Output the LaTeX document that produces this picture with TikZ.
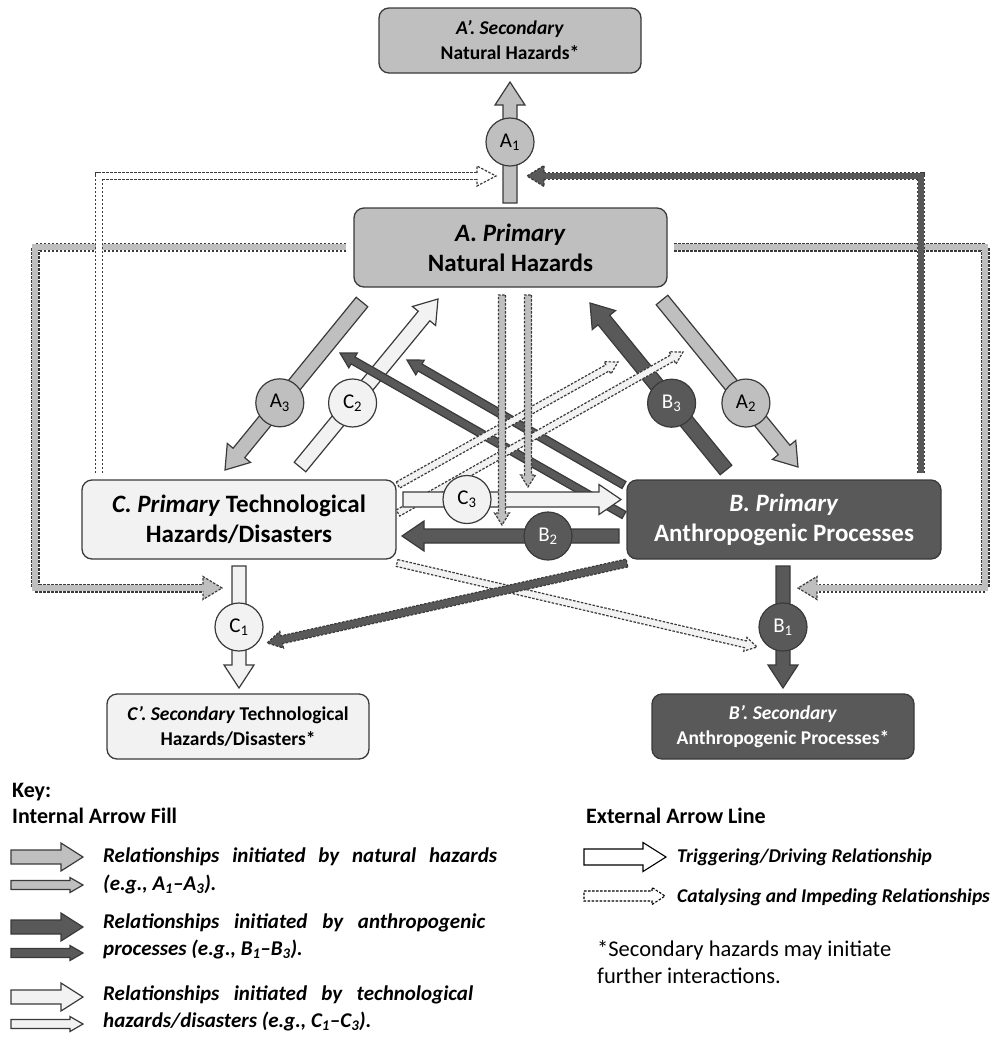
\documentclass[tikz,border=0pt]{standalone}
\usepackage{fontspec}
\setmainfont{Carlito}
\usetikzlibrary{calc}
\definecolor{natc}{HTML}{BFBFBF}
\definecolor{antc}{HTML}{595959}
\definecolor{tecc}{HTML}{F2F2F2}
\definecolor{linec}{HTML}{3A3A3A}
\newcommand\primfont{\fontsize{25}{30}\selectfont\bfseries}
\newcommand\secfont{\fontsize{19.5}{25}\selectfont\bfseries}
% block arrow: style, start, end, half shaft, half head, head length
\newcommand\barr[6]{%
  \coordinate (hb) at ($#3!#6!#2$);
  \draw[#1] ($#2!#4!90:#3$) -- ($(hb)!#4!90:#3$) -- ($(hb)!#5!90:#3$) -- #3 -- ($(hb)!#5!-90:#3$) -- ($(hb)!#4!-90:#3$) -- ($#2!#4!-90:#3$) -- cycle;}
% open arrow head only: style, from, tip, half shaft, half head, head length
\newcommand\bhead[6]{%
  \coordinate (hb) at ($#3!#6!#2$);
  \draw[#1] ($(hb)!#4!90:#3$) -- ($(hb)!#5!90:#3$) -- #3 -- ($(hb)!#5!-90:#3$) -- ($(hb)!#4!-90:#3$);}
\begin{document}
\begin{tikzpicture}[x=1pt,y=-1pt,
  box/.style={draw=linec, line width=1.3pt, rounded corners=10pt, align=center, inner sep=0pt},
  natarr/.style={draw=linec, line width=1.2pt, fill=natc},
  antarr/.style={draw=linec, line width=1.2pt, fill=antc},
  tecarr/.style={draw=linec, line width=1.2pt, fill=tecc},
  whitearr/.style={draw=black, line width=1.1pt, fill=white},
  dsh/.style={dash pattern=on 2.5pt off 1.5pt},
  bandout/.style={line width=#1, draw=linec, dash pattern=on 2.5pt off 1.5pt},
  bandin/.style={line width=#1},
  lbl/.style={circle, draw=linec, line width=1.2pt, minimum size=48pt, inner sep=0pt, font=\fontsize{21}{21}\selectfont},
  keyhd/.style={anchor=base west, inner sep=0pt, font=\fontsize{22}{26}\selectfont\bfseries},
  keytx/.style={anchor=base west, inner sep=0pt, font=\fontsize{21}{26}\selectfont\bfseries\itshape},
  keytx2/.style={anchor=base west, inner sep=0pt, font=\fontsize{19.5}{22}\selectfont\bfseries\itshape},
]
\useasboundingbox (0,0) rectangle (990,1037);

% ---------- boxes ----------
\node[box, fill=natc, minimum width=262pt, minimum height=65pt, font=\secfont] (Ap) at (510,40.5) {\textit{A’. Secondary}\\Natural Hazards*};
\node[box, fill=natc, minimum width=313pt, minimum height=79pt, font=\primfont] (A) at (510.5,247.5) {\textit{A. Primary}\\Natural Hazards};
\node[box, fill=tecc, minimum width=314pt, minimum height=79pt, font=\primfont] (C) at (239,519.5) {\textit{C. Primary} Technological\\Hazards/Disasters};
\node[box, fill=antc, text=white, minimum width=314pt, minimum height=79pt, font=\primfont] (B) at (784,519.5) {\textit{B. Primary}\\Anthropogenic Processes};
\node[box, fill=tecc, minimum width=262pt, minimum height=65pt, font=\secfont] (Cp) at (238,726.5) {\textit{C’. Secondary} Technological\\Hazards/Disasters*};
\node[box, fill=antc, text=white, minimum width=262pt, minimum height=65pt, font=\secfont] (Bp) at (783,726.5) {\textit{B’. Secondary}\\Anthropogenic Processes*};

% ---------- external elbow arrows ----------
\coordinate (ac1s) at (346,247); \coordinate (ac1k) at (35,588); \coordinate (ac1b) at (203,588); \coordinate (ac1e) at (222,588);
\draw[bandout=9pt] (ac1s) -| (ac1k) -- (ac1b);
\draw[bandin=6.6pt, draw=natc] (ac1s) -| (ac1k) -- (ac1b);
\bhead{natarr,dsh}{(ac1k)}{(ac1e)}{3.3pt}{11.5pt}{19pt}

\coordinate (ab1s) at (674,247); \coordinate (ab1k) at (985,588); \coordinate (ab1b) at (817,588); \coordinate (ab1e) at (798,588);
\draw[bandout=9pt] (ab1s) -| (ab1k) -- (ab1b);
\draw[bandin=6.6pt, draw=natc] (ab1s) -| (ab1k) -- (ab1b);
\bhead{natarr,dsh}{(ab1k)}{(ab1e)}{3.3pt}{11.5pt}{19pt}

\coordinate (ca1s) at (99,473); \coordinate (ca1b) at (477,176); \coordinate (ca1e) at (496,176);
\draw[bandout=8pt] (ca1s) |- (ca1b);
\draw[bandin=5.6pt, draw=white] (ca1s) |- (ca1b);
\bhead{tecarr,dsh,fill=white}{(ca1b)}{(ca1e)}{2.8pt}{10pt}{19pt}

\coordinate (ba1s) at (921,473); \coordinate (ba1b) at (544,176); \coordinate (ba1e) at (527,176);
\draw[bandout=8pt] (ba1s) |- (ba1b);
\draw[bandin=5.6pt, draw=antc] (ba1s) |- (ba1b);
\bhead{antarr,dsh}{(ba1b)}{(ba1e)}{2.8pt}{10.5pt}{17pt}

% ---------- main block arrows ----------
\coordinate (a1s) at (510,203); \coordinate (a1e) at (510,82);
\barr{natarr}{(a1s)}{(a1e)}{7pt}{15pt}{23pt}
\coordinate (c1s) at (239,566); \coordinate (c1e) at (239,688);
\barr{tecarr}{(c1s)}{(c1e)}{7pt}{15pt}{23pt}
\coordinate (b1s) at (783,566); \coordinate (b1e) at (783,688);
\barr{antarr}{(b1s)}{(b1e)}{7pt}{15pt}{23pt}
\coordinate (a3s) at (362,302); \coordinate (a3e) at (225,470);
\barr{natarr}{(a3s)}{(a3e)}{7.5pt}{15pt}{22pt}
\coordinate (c2s) at (300,467); \coordinate (c2e) at (438,299);
\barr{tecarr}{(c2s)}{(c2e)}{7.5pt}{15pt}{22pt}
\coordinate (b3s) at (726,470); \coordinate (b3e) at (590,303);
\barr{antarr}{(b3s)}{(b3e)}{7.5pt}{15pt}{22pt}
\coordinate (a2s) at (662,300); \coordinate (a2e) at (798,467);
\barr{natarr}{(a2s)}{(a2e)}{7.5pt}{15pt}{22pt}

% ---------- thin internal arrows ----------
\coordinate (bas) at (624,515); \coordinate (bae) at (340,353);
\barr{antarr}{(bas)}{(bae)}{4pt}{8.5pt}{15pt}
\coordinate (bcs) at (624,485); \coordinate (bce) at (407,360);
\barr{antarr}{(bcs)}{(bce)}{4pt}{8.5pt}{15pt}
\coordinate (cbs) at (398,485); \coordinate (cbe) at (618,362);
\barr{tecarr,dsh}{(cbs)}{(cbe)}{3.5pt}{7pt}{12pt}
\coordinate (cas) at (398,513); \coordinate (cae) at (683,352);
\barr{tecarr,dsh}{(cas)}{(cae)}{3.5pt}{7pt}{12pt}

\coordinate (c3s) at (403,499.5); \coordinate (c3e) at (621,499.5);
\barr{tecarr}{(c3s)}{(c3e)}{7.5pt}{15pt}{22pt}
\coordinate (b2s) at (619,536); \coordinate (b2e) at (402,536);
\barr{antarr}{(b2s)}{(b2e)}{7pt}{15pt}{22pt}

\coordinate (avbs) at (502,295); \coordinate (avbe) at (502,525);
\barr{natarr,dsh}{(avbs)}{(avbe)}{3.5pt}{7.5pt}{12pt}
\coordinate (avcs) at (528,295); \coordinate (avce) at (528,487);
\barr{natarr,dsh}{(avcs)}{(avce)}{3.5pt}{7.5pt}{12pt}

\coordinate (cb1s) at (397,563); \coordinate (cb1e) at (757,647);
\barr{tecarr,dsh}{(cb1s)}{(cb1e)}{3.5pt}{7pt}{12pt}
\coordinate (bc1s) at (627,563); \coordinate (bc1e) at (267,643);
\barr{antarr,dsh}{(bc1s)}{(bc1e)}{4pt}{8.5pt}{15pt}

% ---------- circles ----------
\node[lbl, fill=natc] (A1) at (510,142) {A\textsubscript{1}};
\node[lbl, fill=natc] (A2) at ($(a2s)!0.617!(a2e)$) {A\textsubscript{2}};
\node[lbl, fill=natc] (A3) at ($(a3s)!0.6!(a3e)$) {A\textsubscript{3}};
\node[lbl, fill=antc, text=white] (B1) at (783,627) {B\textsubscript{1}};
\node[lbl, fill=antc, text=white] (B2) at (548,536) {B\textsubscript{2}};
\node[lbl, fill=antc, text=white] (B3) at ($(b3s)!0.4!(b3e)$) {B\textsubscript{3}};
\node[lbl, fill=tecc] (C1) at (239,627) {C\textsubscript{1}};
\node[lbl, fill=tecc] (C2) at ($(c2s)!0.381!(c2e)$) {C\textsubscript{2}};
\node[lbl, fill=tecc] (C3) at (467,499.5) {C\textsubscript{3}};

% ---------- key ----------
\node[keyhd] (keyt) at (12,797) {Key:};
\node[keyhd] (intt) at (12,823) {Internal Arrow Fill};
\node[keyhd] (extt) at (586,823) {External Arrow Line};

\coordinate (k1s) at (11,857); \coordinate (k1e) at (83,857);
\barr{natarr}{(k1s)}{(k1e)}{7pt}{14pt}{22pt}
\coordinate (k2s) at (11,885); \coordinate (k2e) at (83,885);
\barr{natarr}{(k2s)}{(k2e)}{4.5pt}{7.5pt}{13pt}
\coordinate (k3s) at (11,927); \coordinate (k3e) at (83,927);
\barr{antarr}{(k3s)}{(k3e)}{7pt}{14pt}{22pt}
\coordinate (k4s) at (11,953); \coordinate (k4e) at (83,953);
\barr{antarr}{(k4s)}{(k4e)}{4.5pt}{7.5pt}{13pt}
\coordinate (k5s) at (11,997); \coordinate (k5e) at (83,997);
\barr{tecarr}{(k5s)}{(k5e)}{7pt}{14pt}{22pt}
\coordinate (k6s) at (11,1024); \coordinate (k6e) at (83,1024);
\barr{tecarr}{(k6s)}{(k6e)}{4.5pt}{7.5pt}{13pt}

\node[keytx] (kn1) at (103,862) {\makebox[394pt][s]{Relationships initiated by natural hazards}};
\node[keytx] (kn2) at (103,890) {(e.g., A\textsubscript{1}–A\textsubscript{3}).};
\node[keytx] (ka1) at (103,928) {\makebox[382pt][s]{Relationships initiated by anthropogenic}};
\node[keytx] (ka2) at (103,955) {processes (e.g., B\textsubscript{1}–B\textsubscript{3}).};
\node[keytx] (kt1) at (103,1000) {\makebox[370pt][s]{Relationships initiated by technological}};
\node[keytx] (kt2) at (103,1027) {hazards/disasters (e.g., C\textsubscript{1}–C\textsubscript{3}).};

\coordinate (trs) at (584,857); \coordinate (tre) at (666,857);
\barr{whitearr}{(trs)}{(tre)}{8pt}{14.5pt}{23pt}
\coordinate (cts) at (584,896); \coordinate (cte) at (665,896);
\barr{whitearr,dsh}{(cts)}{(cte)}{5pt}{8.5pt}{13pt}
\node[keytx2] (ktr) at (677,862) {Triggering/Driving Relationship};
\node[keytx2] (kct) at (677,902) {Catalysing and Impeding Relationships};

\node[anchor=base west, inner sep=0pt, font=\fontsize{22.5}{27}\selectfont] (note1) at (597,956) {*Secondary hazards may initiate};
\node[anchor=base west, inner sep=0pt, font=\fontsize{22.5}{27}\selectfont] (note2) at (597,983) {further interactions.};
\end{tikzpicture}
\end{document}
